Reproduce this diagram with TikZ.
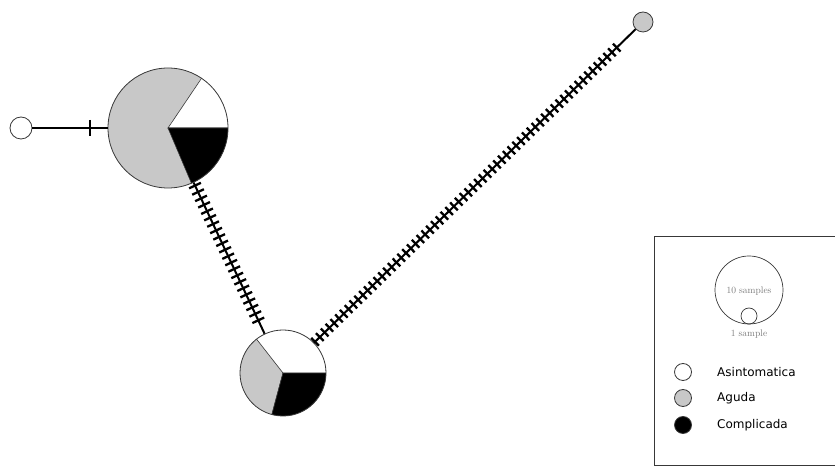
\documentclass[tikz,border=0pt]{standalone}
\usepackage{fontspec}
\setsansfont{DejaVu Sans}
\usepackage{tikz}
\usetikzlibrary{calc}
\definecolor{agudagray}{HTML}{C8C8C8}
\definecolor{rimgray}{HTML}{383838}
\definecolor{notegray}{HTML}{7A7A7A}

\tikzset{
  hap/.style={circle,draw=rimgray,line width=0.8pt,inner sep=0pt,fill=white},
  link/.style={line width=2pt,black},
  mut/.style={line width=2.3pt,black},
  slice/.style={draw=rimgray,line width=0.6pt},
  keytext/.style={anchor=west,inner sep=0pt,font=\sffamily\fontsize{12}{14}\selectfont},
  sizetext/.style={text=notegray,inner sep=0pt,font=\rmfamily\fontsize{9.5}{10}\selectfont}
}

\begin{document}
\begin{tikzpicture}[x=1pt,y=1pt,font=\sffamily]
  \clip (0,0) rectangle (835,468);
  \useasboundingbox (0,0) rectangle (835,468);

  % haplotypes
  \node[hap,minimum size=22pt] (w) at (21,340) {};
  \node[hap,minimum size=20pt,fill=agudagray] (g) at (643,446) {};
  \node[hap,minimum size=120pt,path picture={
      \coordinate (c) at (path picture bounding box.center);
      \fill[agudagray] (c) circle[radius=70pt];
      \filldraw[slice,fill=white] (c) -- ++(0:70pt) arc[start angle=0,end angle=56,radius=70pt] -- cycle;
      \filldraw[slice,fill=black] (c) -- ++(-67:70pt) arc[start angle=-67,end angle=0,radius=70pt] -- cycle;
    }] (big) at (168,340) {};
  \node[hap,minimum size=86pt,path picture={
      \coordinate (c) at (path picture bounding box.center);
      \fill[white] (c) circle[radius=50pt];
      \filldraw[slice,fill=agudagray] (c) -- ++(128:50pt) arc[start angle=128,end angle=255,radius=50pt] -- cycle;
      \filldraw[slice,fill=black] (c) -- ++(255:50pt) arc[start angle=255,end angle=360,radius=50pt] -- cycle;
    }] (small) at (283,95) {};

  % links
  \draw[link] (w) -- (big);
  \draw[link] (big) -- (small);
  \draw[link] (small) -- (g);

  % mutation marks
  \coordinate (m) at ($(w.center)!0.469!(big.center)$);
  \draw[mut] ($(m)!8pt!90:(big.center)$) -- ($(m)!8pt!-90:(big.center)$);
  \foreach \k in {0,...,21}{
    \pgfmathsetmacro{\f}{0.235+\k*(0.785-0.235)/21}
    \coordinate (m) at ($(big.center)!\f!(small.center)$);
    \draw[mut] ($(m)!6.5pt!90:(small.center)$) -- ($(m)!6.5pt!-90:(small.center)$);
  }
  \foreach \k in {0,...,63}{
    \pgfmathsetmacro{\f}{0.089+\k*(0.927-0.089)/63}
    \coordinate (m) at ($(small.center)!\f!(g.center)$);
    \draw[mut] ($(m)!5.5pt!90:(g.center)$) -- ($(m)!5.5pt!-90:(g.center)$);
  }

  % legend
  \node[draw=rimgray,line width=0.8pt,minimum width=191pt,minimum height=229pt,
        anchor=south west,inner sep=0pt] (key) at (654,2) {};
  \node[circle,draw=rimgray,line width=0.7pt,minimum size=68pt,inner sep=0pt] (ten) at (749,178) {};
  \node[circle,draw=rimgray,line width=0.7pt,minimum size=16pt,inner sep=0pt] (one) at (749,152) {};
  \node[sizetext] at (749,177) {10 samples};
  \node[sizetext] at (749,134) {1 sample};
  \node[hap,minimum size=17pt] (k1) at (683,96) {};
  \node[hap,minimum size=17pt,fill=agudagray] (k2) at (683,70) {};
  \node[hap,minimum size=17pt,fill=black] (k3) at (683,43) {};
  \node[keytext] at (717,96) {Asintomatica};
  \node[keytext] at (717,70) {Aguda};
  \node[keytext] at (717,43) {Complicada};
\end{tikzpicture}
\end{document}
